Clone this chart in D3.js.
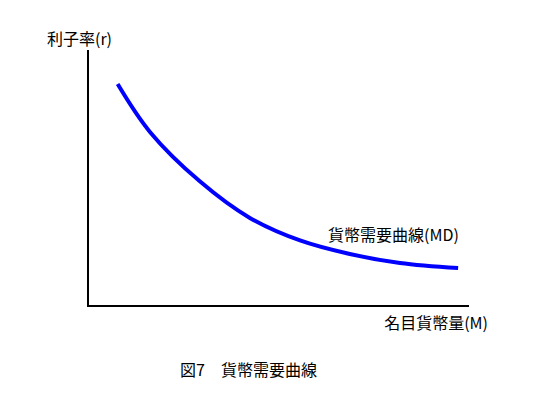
<html>
  <meta charset="utf-8" />
  <script src="https://d3js.org/d3.v7.min.js"></script>
  <style>
    body { margin: 0; background: #fff; }
    text { font-family: "Noto Sans CJK JP", "Noto Sans", sans-serif; font-size: 16px; fill: #000; }
  </style>
  <body>
    <svg width="559" height="397" id="chart"></svg>
    <script>
      // money supply (M) vs interest rate (r)
      const moneyM = [7.8, 16.3, 29.5, 42.6, 55.8, 68.9, 82.1, 97.4];
      const rateR = [86.7, 68.0, 48.6, 34.4, 25.6, 20.3, 16.8, 14.8];

      const yLabel = "利子率(r)";
      const xLabel = "名目貨幣量(M)";
      const curveLabel = "貨幣需要曲線(MD)";
      const caption = "図7\u3000貨幣需要曲線";

      const data = moneyM.map((m, i) => ({ m: m, r: rateR[i] }));

      const svg = d3.select("#chart");

      const x = d3.scaleLinear().domain([0, 100]).range([88, 468]);
      const y = d3.scaleLinear().domain([0, 100]).range([306, 50]);

      // axes: plain lines, no ticks
      svg.append("line")
        .attr("x1", x(0)).attr("y1", y(0))
        .attr("x2", x(0)).attr("y2", y(100))
        .attr("stroke", "#000").attr("stroke-width", 2);
      svg.append("line")
        .attr("x1", x(0) - 1).attr("y1", y(0))
        .attr("x2", x(100) + 1).attr("y2", y(0))
        .attr("stroke", "#000").attr("stroke-width", 2);

      const line = d3.line()
        .x((d) => x(d.m))
        .y((d) => y(d.r))
        .curve(d3.curveCatmullRom.alpha(0.5));

      svg.append("path")
        .datum(data)
        .attr("d", line)
        .attr("fill", "none")
        .attr("stroke", "#0000ff")
        .attr("stroke-width", 4);

      svg.append("text").attr("x", 47).attr("y", 45).text(yLabel);
      svg.append("text").attr("x", 488).attr("y", 329)
        .attr("text-anchor", "end").text(xLabel);
      svg.append("text").attr("x", 328).attr("y", 241).text(curveLabel);
      svg.append("text").attr("x", 180).attr("y", 376).text(caption);
    </script>
  </body>
</html>
